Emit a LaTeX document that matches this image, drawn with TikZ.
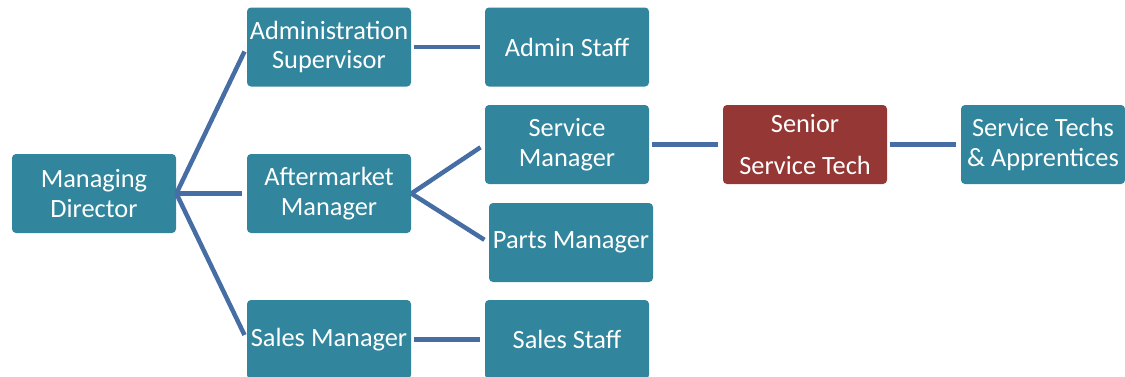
\documentclass[tikz,border=0pt]{standalone}
\usepackage{fontspec}
\setmainfont{Carlito}
\definecolor{roleteal}{HTML}{31859C}
\definecolor{rolered}{HTML}{953735}
\definecolor{linkblue}{RGB}{70,110,165}
\begin{document}
\begin{tikzpicture}[
  role/.style={fill=roleteal, rounded corners=0.08cm, minimum width=3.28cm,
    minimum height=1.58cm, inner sep=0.04cm, align=center, text=white,
    font=\fontsize{15}{17}\selectfont},
  keyrole/.style={role, fill=rolered},
  link/.style={linkblue, line width=0.09cm, shorten >=0.1cm}
]
\useasboundingbox (0,0) rectangle (22.5,7.52);

% first column
\node[role] (md) at (1.88, 3.65) {Managing\\Director};

% second column
\node[role] (adm) at (6.58, 6.58) {Administration\\Supervisor};
\node[role] (after) at (6.58, 3.65) {Aftermarket\\Manager};
\node[role] (sales) at (6.58, 0.73) {Sales Manager};

% third column
\node[role] (admstaff) at (11.34, 6.58) {Admin Staff};
\node[role] (service) at (11.34, 4.63) {Service\\Manager};
\node[role] (parts) at (11.42, 2.67) {Parts Manager};
\node[role] (salesstaff) at (11.34, 0.73) {Sales Staff};

% service chain
\node[keyrole] (senior) at (16.1, 4.63) {Senior\\[0.24cm]Service Tech};
\node[role] (techs) at (20.86, 4.63) {Service Techs\\\& Apprentices};

\draw[link] (md.east) -- (adm.west);
\draw[link] (md.east) -- (after.west);
\draw[link] (md.east) -- (sales.west);

\draw[link] (after.east) -- (service.west);
\draw[link] (after.east) -- (parts.west);

\draw[link, shorten <=0.05cm] (adm.east) -- (admstaff.west);
\draw[link, shorten <=0.05cm] (sales.east) -- (salesstaff.west);
\draw[link, shorten <=0.05cm] (service.east) -- (senior.west);
\draw[link, shorten <=0.05cm] (senior.east) -- (techs.west);

\end{tikzpicture}
\end{document}
